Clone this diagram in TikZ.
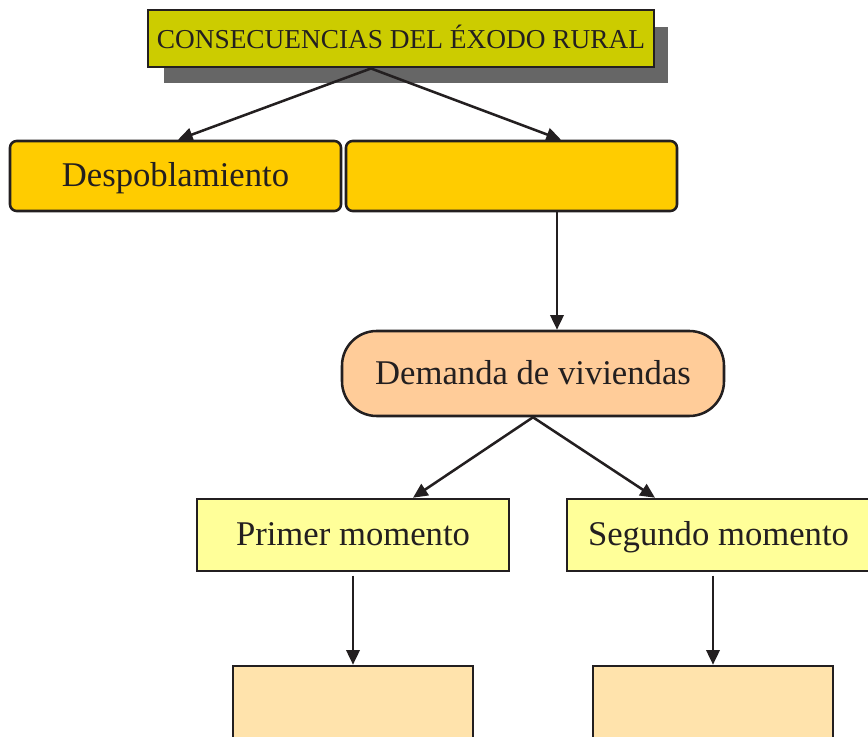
\documentclass[tikz,border=0pt]{standalone}
\usepackage{fontspec}
\setmainfont{Liberation Serif}
\usetikzlibrary{arrows.meta}
\definecolor{titlefill}{HTML}{CCCC00}
\definecolor{shadowgray}{HTML}{666666}
\definecolor{gold}{HTML}{FFCC00}
\definecolor{peach}{HTML}{FFCC99}
\definecolor{paleyellow}{HTML}{FFFF99}
\definecolor{cream}{HTML}{FFE3AC}
\definecolor{ink}{HTML}{231F20}
\tikzset{
  box/.style={draw=ink, line width=1.9pt, inner sep=0pt, text=ink,
    text height=19pt, text depth=3pt,
    font=\fontsize{26pt}{30pt}\selectfont},
  conn/.style={draw=ink, line width=1.9pt, -{Triangle[length=11pt,width=10pt]}},
}
\begin{document}
\begin{tikzpicture}[x=0.75pt,y=-0.75pt]
\useasboundingbox (0,0) rectangle (868,737);
% title shadow
\fill[shadowgray] (164,27) rectangle (668,83);
\node[box, fill=titlefill, line width=2.2pt, minimum width=506*0.75pt, minimum height=57*0.75pt,
  text height=17pt, text depth=2pt,
  font=\fontsize{20.5pt}{24pt}\selectfont] (title) at (401,38.5) {CONSECUENCIAS DEL ÉXODO RURAL};
\coordinate (tb) at (371,69);
\node[box, fill=gold, rounded corners=5pt, minimum width=331*0.75pt, minimum height=70*0.75pt] (desp) at (175.5,176) {Despoblamiento};
\node[box, fill=gold, rounded corners=5pt, minimum width=331*0.75pt, minimum height=70*0.75pt] (other) at (511.5,176) {};
\node[box, fill=peach, rounded corners=26pt, minimum width=382*0.75pt, minimum height=85*0.75pt] (dem) at (533,373.5) {Demanda de viviendas};
\node[box, fill=paleyellow, minimum width=312*0.75pt, minimum height=72*0.75pt] (prim) at (353,535) {Primer momento};
\node[box, fill=paleyellow, minimum width=303*0.75pt, minimum height=72*0.75pt] (seg) at (718.5,535) {Segundo momento};
\node[box, fill=cream, minimum width=240*0.75pt, minimum height=80*0.75pt] (b1) at (353,706) {};
\node[box, fill=cream, minimum width=240*0.75pt, minimum height=80*0.75pt] (b2) at (713,706) {};
% connectors
\draw[conn] (title.south -| tb) -- (desp.north -| 178,0);
\draw[conn] (title.south -| tb) -- (other.north -| 561,0);
\draw[conn] (other.south -| 557,0) -- (dem.north -| 557,0);
\draw[conn] (dem.south) -- (prim.north -| 413,0);
\draw[conn] (dem.south) -- (seg.north -| 655,0);
\draw[conn] ([yshift=-2.5pt]prim.south) -- (b1.north);
\draw[conn] ([yshift=-2.5pt]seg.south -| b2.north) -- (b2.north);
\end{tikzpicture}
\end{document}
